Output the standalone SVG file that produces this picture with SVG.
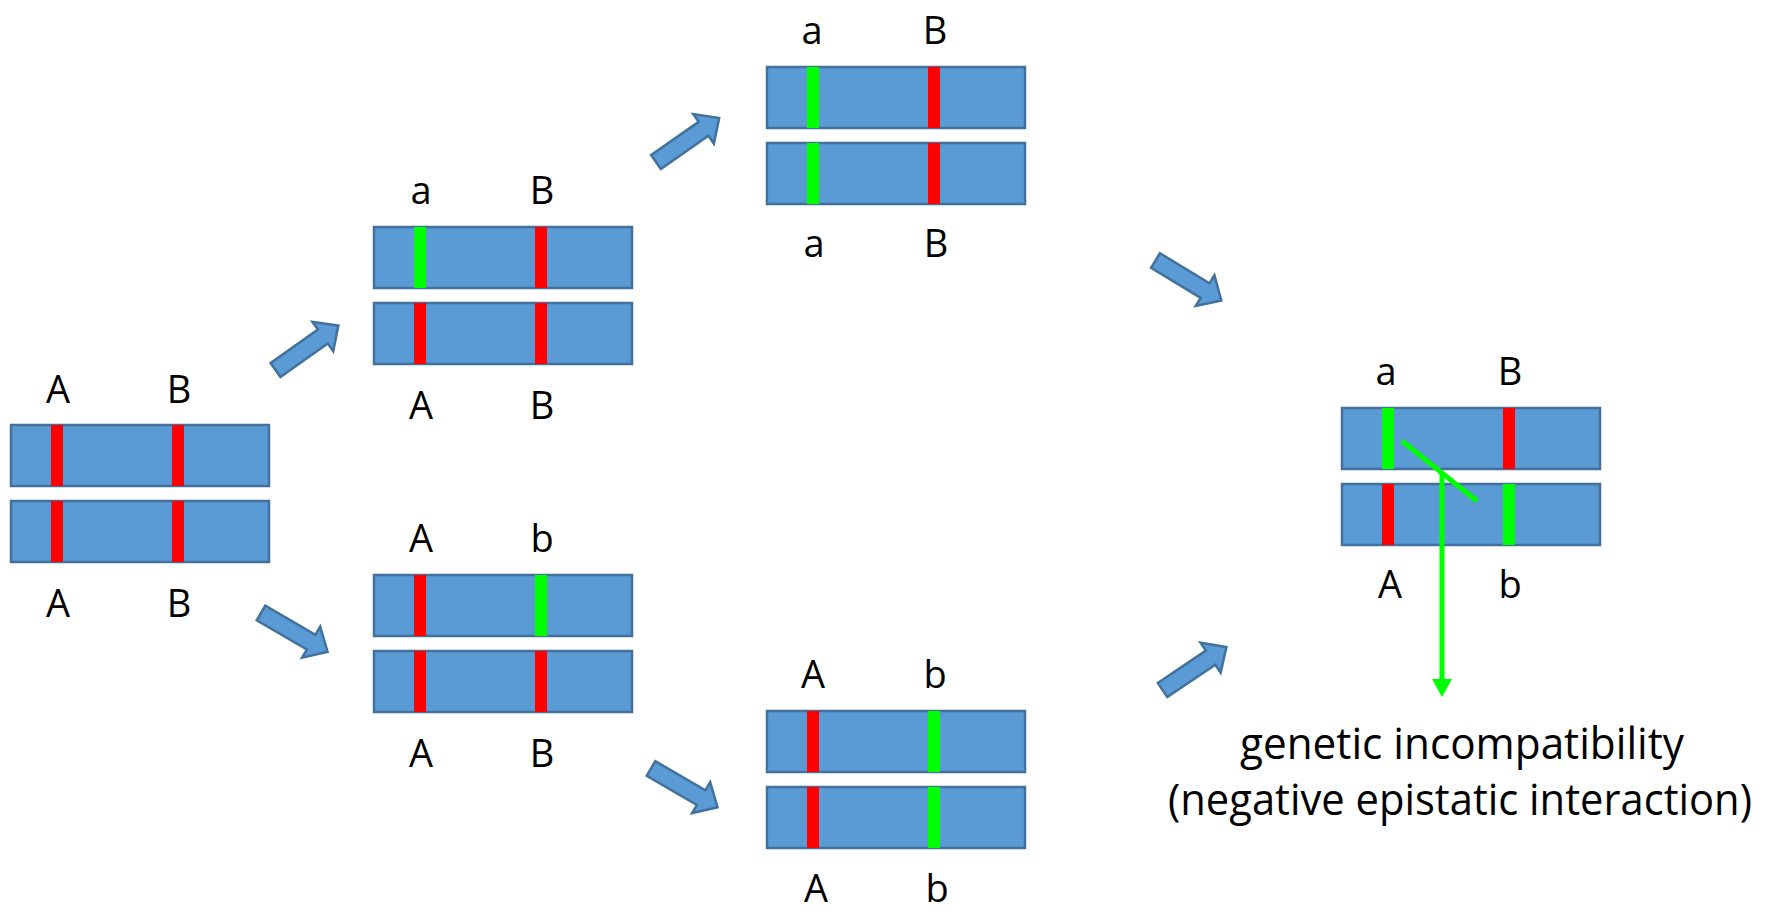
<svg xmlns="http://www.w3.org/2000/svg" width="1778" height="916" viewBox="0 0 1778 916">
<style>
.chr{fill:#5B9BD5;stroke:#41719C;stroke-width:2.5}
.r{fill:#FF0000}
.g{fill:#00FF00}
.lbl{font-family:"Open Sans","Liberation Sans",sans-serif;font-size:38px;fill:#000;text-anchor:middle}
.big{font-family:"Open Sans","Liberation Sans",sans-serif;font-size:44px;fill:#000;text-anchor:middle}
.blk{fill:#5B9BD5;stroke:#41719C;stroke-width:2.5;stroke-linejoin:miter}
.gl{stroke:#00FF00;stroke-width:5;fill:none}
</style>
<defs>
<path id="barrow" d="M0,-8.5 L58,-8.5 L58,-18 L77,0 L58,18 L58,8.5 L0,8.5 Z"/>
<rect id="chrom" class="chr" x="0" y="0" width="258" height="61"/>
</defs>
<rect width="1778" height="916" fill="#FFFFFF"/>

<g id="pair-AB-left" transform="translate(11,425)">
<use href="#chrom"/>
<rect class="r" x="40" y="0" width="12" height="61"/><rect class="r" x="161" y="0" width="12" height="61"/>
<use href="#chrom" y="76"/>
<rect class="r" x="40" y="76" width="12" height="61"/><rect class="r" x="161" y="76" width="12" height="61"/>
<text class="lbl" x="47" y="-22">A</text><text class="lbl" x="168" y="-22">B</text>
<text class="lbl" x="47" y="192">A</text><text class="lbl" x="168" y="192">B</text>
</g>

<g id="pair-aB-AB" transform="translate(374,227)">
<use href="#chrom"/>
<rect class="g" x="40" y="0" width="12" height="61"/><rect class="r" x="161" y="0" width="12" height="61"/>
<use href="#chrom" y="76"/>
<rect class="r" x="40" y="76" width="12" height="61"/><rect class="r" x="161" y="76" width="12" height="61"/>
<text class="lbl" x="47" y="-23">a</text><text class="lbl" x="168" y="-23">B</text>
<text class="lbl" x="47" y="192">A</text><text class="lbl" x="168" y="192">B</text>
</g>

<g id="pair-Ab-AB" transform="translate(374,575)">
<use href="#chrom"/>
<rect class="r" x="40" y="0" width="12" height="61"/><rect class="g" x="161" y="0" width="12" height="61"/>
<use href="#chrom" y="76"/>
<rect class="r" x="40" y="76" width="12" height="61"/><rect class="r" x="161" y="76" width="12" height="61"/>
<text class="lbl" x="47" y="-23">A</text><text class="lbl" x="168" y="-23">b</text>
<text class="lbl" x="47" y="192">A</text><text class="lbl" x="168" y="192">B</text>
</g>

<g id="pair-aB-aB" transform="translate(767,67)">
<use href="#chrom"/>
<rect class="g" x="40" y="0" width="12" height="61"/><rect class="r" x="161" y="0" width="12" height="61"/>
<use href="#chrom" y="76"/>
<rect class="g" x="40" y="76" width="12" height="61"/><rect class="r" x="161" y="76" width="12" height="61"/>
<text class="lbl" x="45" y="-23">a</text><text class="lbl" x="168" y="-23">B</text>
<text class="lbl" x="47" y="190">a</text><text class="lbl" x="169" y="190">B</text>
</g>

<g id="pair-Ab-Ab" transform="translate(767,711)">
<use href="#chrom"/>
<rect class="r" x="40" y="0" width="12" height="61"/><rect class="g" x="161" y="0" width="12" height="61"/>
<use href="#chrom" y="76"/>
<rect class="r" x="40" y="76" width="12" height="61"/><rect class="g" x="161" y="76" width="12" height="61"/>
<text class="lbl" x="46" y="-23">A</text><text class="lbl" x="168" y="-23">b</text>
<text class="lbl" x="49" y="191">A</text><text class="lbl" x="170" y="191">b</text>
</g>

<g id="pair-hybrid" transform="translate(1342,408)">
<use href="#chrom"/>
<rect class="g" x="40" y="0" width="12" height="61"/><rect class="r" x="161" y="0" width="12" height="61"/>
<use href="#chrom" y="76"/>
<rect class="r" x="40" y="76" width="12" height="61"/><rect class="g" x="161" y="76" width="12" height="61"/>
<text class="lbl" x="44" y="-23">a</text><text class="lbl" x="168" y="-23">B</text>
<text class="lbl" x="48" y="190">A</text><text class="lbl" x="168" y="190">b</text>
</g>

<g id="connectors">
<use href="#barrow" class="blk" transform="translate(275.5,370) rotate(-35.3)"/>
<use href="#barrow" class="blk" transform="translate(261,613) rotate(30.2)"/>
<use href="#barrow" class="blk" transform="translate(656,162) rotate(-34.9)"/>
<use href="#barrow" class="blk" transform="translate(651,768.5) rotate(30.2)"/>
<use href="#barrow" class="blk" transform="translate(1155.5,260.5) rotate(31.3)"/>
<use href="#barrow" class="blk" transform="translate(1162.5,690) rotate(-33.9)"/>
<line class="gl" x1="1402" y1="441" x2="1477" y2="501"/>
<line class="gl" x1="1442" y1="473" x2="1442" y2="682"/>
<polygon points="1432,679 1452,679 1442,697" fill="#00FF00"/>
</g>

<g id="label-incompatibility">
<text class="big" x="1462" y="759" textLength="444" lengthAdjust="spacingAndGlyphs">genetic incompatibility</text>
<text class="big" x="1460" y="815" textLength="584" lengthAdjust="spacingAndGlyphs">(negative epistatic interaction)</text>
</g>
</svg>
